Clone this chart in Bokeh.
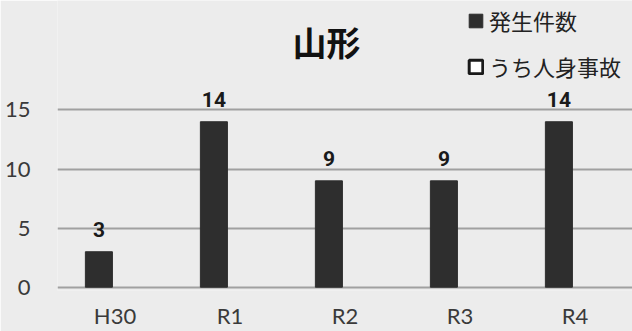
from bokeh.plotting import figure
from bokeh.models import (ColumnDataSource, FactorRange, Range1d, FixedTicker, Legend, LegendItem,
                          LabelSet, Label, CDSView, BooleanFilter)
from bokeh.core.properties import value
from bokeh.transform import dodge
from bokeh.embed import file_html
from bokeh.resources import INLINE

categories = ["H30", "R1", "R2", "R3", "R4"]
total = [3, 14, 9, 9, 14]
injury = [0, 0, 0, 0, 0]
y_ticks = [0, 5, 10, 15]
title_text = "山形"
series_names = ["発生件数", "うち人身事故"]

BG = "#ececec"
DARK = "#2e2e2e"
TXT = "#3a3a3a"
JP = "Noto Sans CJK JP"
NUM = "Lato"

src = ColumnDataSource(dict(cat=categories, total=total, injury=injury,
                            total_str=[str(v) for v in total]))

p = figure(width=632, height=331, x_range=FactorRange(*categories, range_padding=0),
           y_range=Range1d(-0.28, 24.26), output_backend="svg", toolbar_location=None,
           min_border_left=57, min_border_right=0, min_border_top=0, min_border_bottom=35)
p.background_fill_color = BG
p.border_fill_color = BG
p.outline_line_color = None

OFF = 0.14
BW = 0.235
r_total = p.vbar(x=dodge("cat", -OFF, range=p.x_range), top="total", width=BW,
                 source=src, fill_color=DARK, line_color=DARK)
# injury bars (drawn only where non-zero)
view = CDSView(filter=BooleanFilter([v > 0 for v in injury]))
inj_style = dict(fill_color="white", line_color="#1a1a1a", line_width=3)
p.vbar(x=dodge("cat", OFF, range=p.x_range), top="injury", width=BW,
       source=src, view=view, **inj_style)
# legend proxy for the injury series (zero width, so nothing shows in the plot)
r_inj_leg = p.vbar(x=dodge("cat", OFF, range=p.x_range), top="injury", width=0,
                   source=src, **inj_style)

labels = LabelSet(x=dodge("cat", -OFF, range=p.x_range), y="total", text="total_str", source=src,
                  y_offset=15, text_align="center", text_baseline="alphabetic",
                  text_font=value("Roboto"), text_font_style="bold", text_font_size="21px",
                  text_color="#1a1a1a")
p.add_layout(labels)

p.xgrid.grid_line_color = None
p.ygrid.ticker = FixedTicker(ticks=y_ticks)
p.ygrid.grid_line_color = "#a0a0a0"
p.ygrid.grid_line_width = 2

p.yaxis.ticker = FixedTicker(ticks=y_ticks)
p.yaxis.axis_line_color = None
p.yaxis.major_tick_line_color = None
p.yaxis.minor_tick_line_color = None
p.yaxis.major_label_standoff = 21
p.yaxis.major_label_text_font = NUM
p.yaxis.major_label_text_font_size = "22px"
p.yaxis.major_label_text_color = TXT

p.xaxis.axis_line_color = None
p.xaxis.major_tick_line_color = None
p.xaxis.major_tick_out = 0
p.xaxis.major_label_standoff = 11
p.xaxis.major_label_text_font = NUM
p.xaxis.major_label_text_font_size = "22px"
p.xaxis.major_label_text_color = TXT

p.add_layout(Label(x=269, y=249, x_units="screen", y_units="screen", text=title_text,
                   text_align="center", text_baseline="middle", text_font=JP,
                   text_font_style="bold", text_font_size="34px", text_color="#111111"))

legend = Legend(items=[LegendItem(label=series_names[0], renderers=[r_total]),
                       LegendItem(label=series_names[1], renderers=[r_inj_leg])],
                location=(410, 208), orientation="vertical", padding=0, margin=0, spacing=14,
                glyph_width=17, glyph_height=17, label_standoff=5,
                label_text_font=JP, label_text_font_size="22px", label_text_color="#222222",
                background_fill_alpha=0, border_line_color=None)
p.add_layout(legend)

open("out.html", "w").write(file_html(p, INLINE))
